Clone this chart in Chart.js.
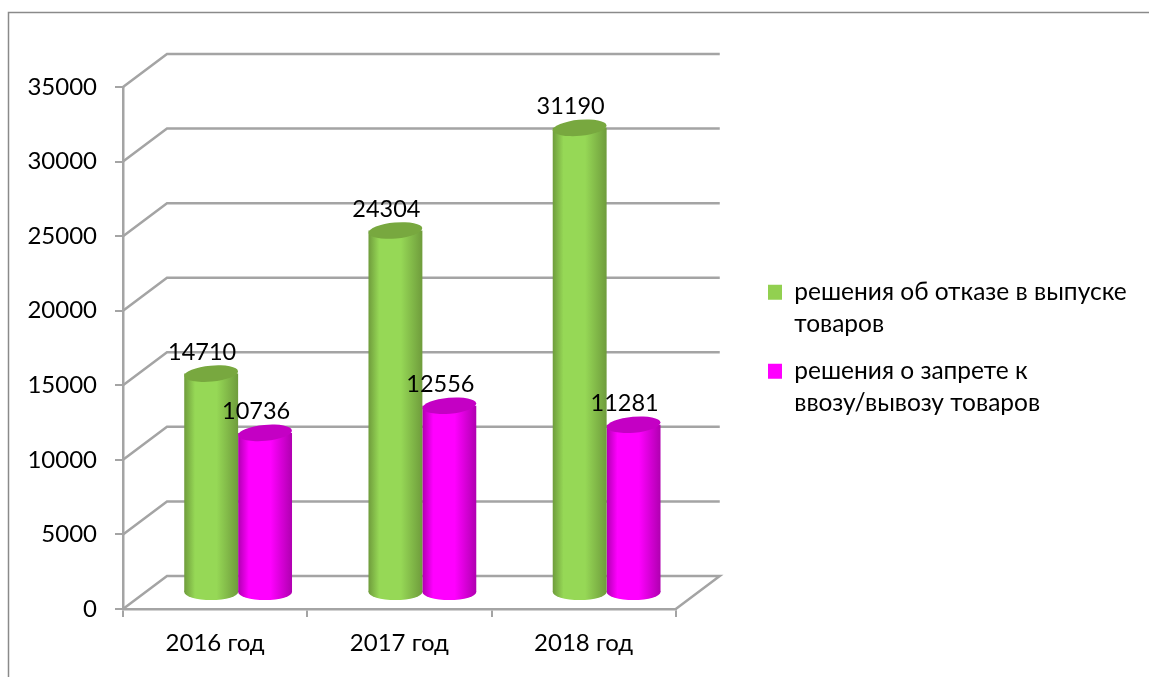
<!DOCTYPE html>
<html>
<head>
<meta charset="utf-8">
<style>html,body{margin:0;padding:0;background:#fff}canvas{display:block}</style>
<script src="https://cdn.jsdelivr.net/npm/chart.js@4/dist/chart.umd.min.js"></script>
</head>
<body>
<canvas id="c" width="1149" height="677"></canvas>
<script>
const categories = ["2016 год", "2017 год", "2018 год"];
const refusalValues = [14710, 24304, 31190];
const banValues = [10736, 12556, 11281];
const refusalLabel = ["решения об отказе в выпуске", "товаров"];
const banLabel = ["решения о запрете к", "ввозу/вывозу товаров"];
const yTicks = [0, 5000, 10000, 15000, 20000, 25000, 30000, 35000];

const FONT = 'Lato, "Open Sans", sans-serif';
const SIZE = 24;
const DEPTH_X = 44, DEPTH_Y = 33;     // wall depth
const BAR_DX = 23, BAR_DY = 16;       // bars stand mid-floor
const LINE = '#a4a4a4';
const shades = [
  {edge:'#6f9c3c', mid:'#96d856', cap:'#78a83f', base:'#92d050'},
  {edge:'#b000b0', mid:'#ff00ff', cap:'#c400c4', base:'#ff00ff'}
];

function capPath(ctx, x, y, rx, tilt){
  ctx.beginPath();
  ctx.ellipse(x, y, rx, 8, tilt, 0, Math.PI*2);
}

const scene = {
  id:'scene',
  beforeUpdate(chart){
    chart.legend.afterFit = function(){ this.width = 200; };
  },
  afterLayout(chart){
    const l = chart.legend;
    l.left = 753; l.right = 1149; l.top = 265; l.bottom = 677;
  },
  beforeDatasetsDraw(chart){
    const {ctx, chartArea:a, scales:{y}} = chart;
    ctx.save();
    // outer frame
    ctx.strokeStyle = '#8a8a8a'; ctx.lineWidth = 1.5;
    ctx.beginPath(); ctx.moveTo(8.5,677); ctx.lineTo(8.5,12.5); ctx.lineTo(1149,12.5); ctx.stroke();
    // wall and floor lines
    ctx.strokeStyle = LINE; ctx.lineWidth = 2.5; ctx.lineJoin = 'miter';
    yTicks.forEach(t => {
      const py = y.getPixelForValue(t);
      ctx.beginPath();
      ctx.moveTo(a.left, py);
      ctx.lineTo(a.left + DEPTH_X, py - DEPTH_Y);
      ctx.lineTo(a.right + DEPTH_X, py - DEPTH_Y);
      if (t === 0) ctx.lineTo(a.right, py);
      ctx.stroke();
    });
    ctx.restore();
  },
  beforeDatasetDraw(chart, args){
    const {ctx} = chart, s = shades[args.index];
    ctx.save();
    ctx.translate(BAR_DX, -BAR_DY);
    args.meta.data.forEach(el => {
      const w = el.width, x0 = el.x - w/2;
      const g = ctx.createLinearGradient(x0, 0, x0 + w, 0);
      g.addColorStop(0, s.edge); g.addColorStop(0.2, s.mid);
      g.addColorStop(0.6, s.mid); g.addColorStop(1, s.edge);
      el.options = Object.assign({}, el.options, {backgroundColor:g, borderWidth:0});
      ctx.fillStyle = g;
      capPath(ctx, el.x, el.base, w/2, 0);
      ctx.fill();
    });
  },
  afterDatasetDraw(chart, args){
    const {ctx} = chart, s = shades[args.index];
    args.meta.data.forEach(el => {
      ctx.fillStyle = s.cap;
      capPath(ctx, el.x, el.y, el.width/2, -0.09);
      ctx.fill();
    });
    ctx.restore();
  },
  afterDatasetsDraw(chart){
    const {ctx} = chart;
    ctx.save();
    ctx.fillStyle = '#000';
    ctx.font = '23.5px ' + FONT;
    ctx.textAlign = 'center'; ctx.textBaseline = 'middle';
    chart.data.datasets.forEach((ds, i) => {
      chart.getDatasetMeta(i).data.forEach((el, k) => {
        ctx.fillText(String(ds.data[k]), el.x + BAR_DX - 9, el.y - BAR_DY - 21);
      });
    });
    ctx.restore();
  }
};

new Chart(document.getElementById('c'), {
  type:'bar',
  plugins:[scene],
  data:{
    labels:categories,
    datasets:[
      {label:refusalLabel.join(' '), data:refusalValues, backgroundColor:shades[0].base, clip:false,
       categoryPercentage:0.585, barPercentage:1},
      {label:banLabel.join(' '), data:banValues, backgroundColor:shades[1].base, clip:false,
       categoryPercentage:0.585, barPercentage:1}
    ]
  },
  options:{
    responsive:false,
    animation:false,
    devicePixelRatio:1,
    layout:{padding:{top:87,left:0,right:248,bottom:0}},
    font:{family:FONT},
    plugins:{
      title:{display:false},
      tooltip:{enabled:false},
      legend:{
        position:'right',
        align:'start',
        labels:{
          boxWidth:14, boxHeight:15, padding:15, color:'#000',
          font:{family:FONT, size:24.5, lineHeight:32/24.5},
          generateLabels(){
            return [refusalLabel, banLabel].map((t,i)=>({
              text:t, fillStyle:shades[i].base, strokeStyle:shades[i].base, lineWidth:0, datasetIndex:i, fontColor:'#000'
            }));
          }
        }
      }
    },
    scales:{
      x:{
        afterFit(s){ s.height = 68; },
        grid:{offset:true, drawOnChartArea:false, drawTicks:true, tickLength:8, color:LINE, lineWidth:2},
        border:{color:LINE, width:2.5},
        ticks:{color:'#000', padding:12, maxRotation:0, font:{family:FONT, size:SIZE}}
      },
      y:{
        min:0, max:35000,
        afterFit(s){ s.width = 123; },
        afterBuildTicks(s){ s.ticks = yTicks.map(v=>({value:v})); },
        grid:{drawOnChartArea:false, drawTicks:true, tickLength:8, color:LINE, lineWidth:2},
        border:{color:LINE, width:2.5},
        ticks:{color:'#000', padding:18, callback:v=>String(v), font:{family:FONT, size:SIZE}}
      }
    }
  }
});
</script>
</body>
</html>
